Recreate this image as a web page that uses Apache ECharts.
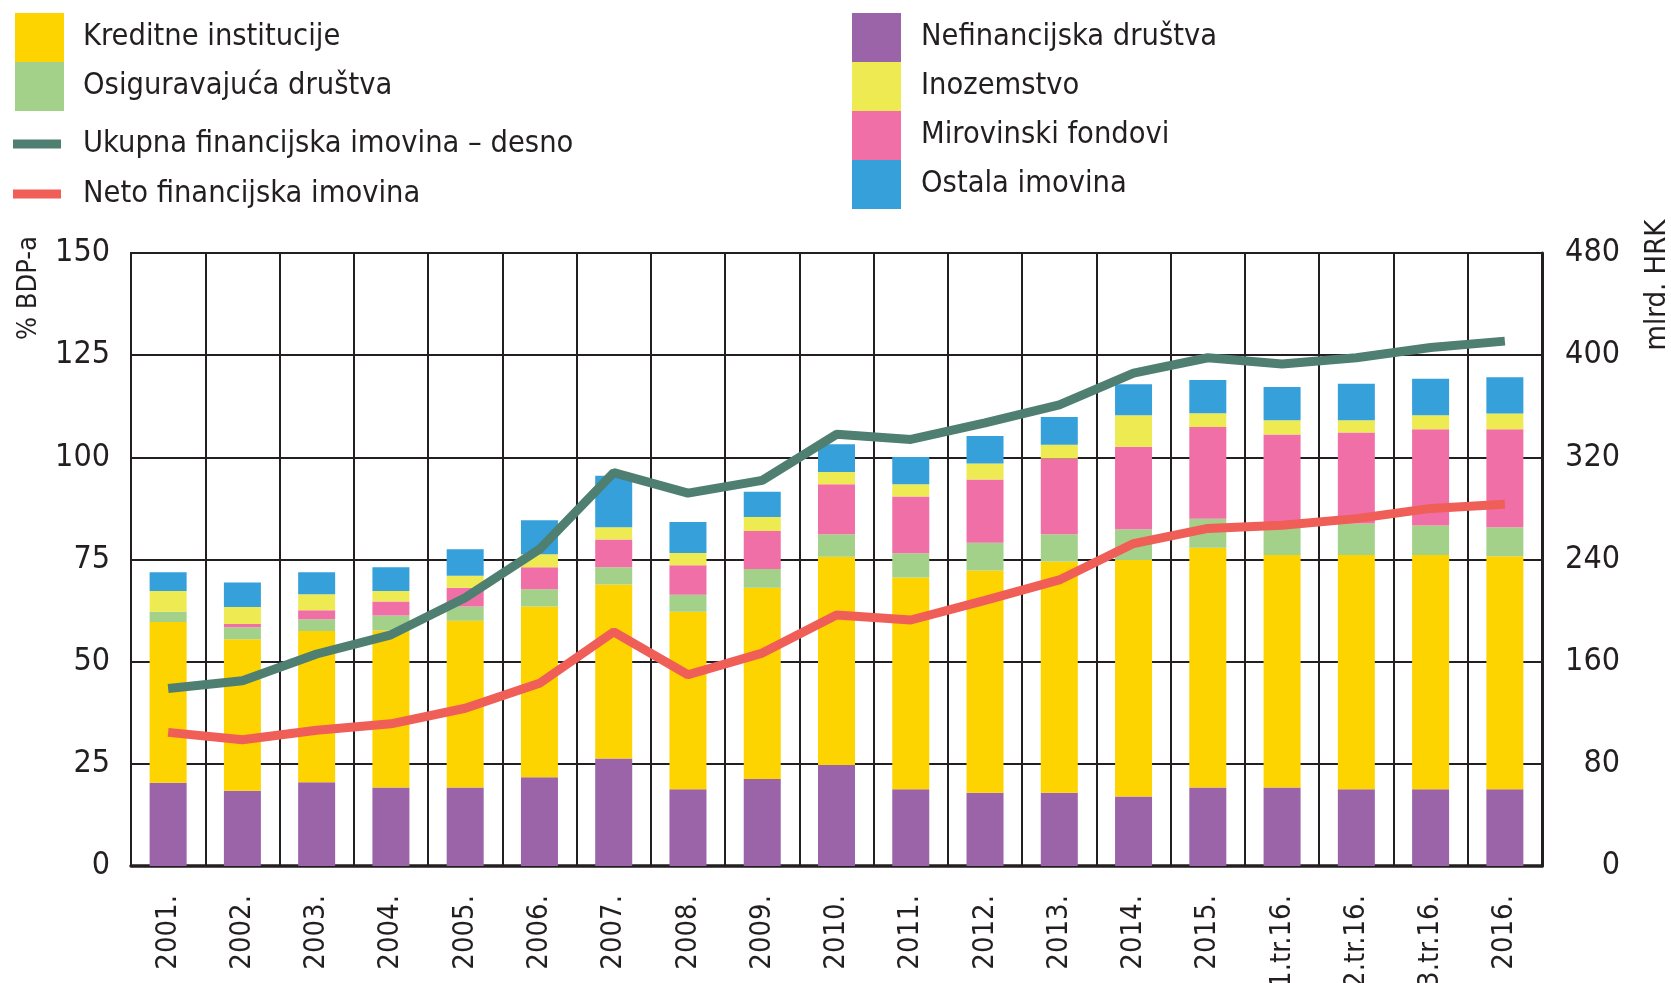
<!DOCTYPE html>
<html>
<head>
<meta charset="utf-8">
<script src="https://cdn.jsdelivr.net/npm/echarts@6/dist/echarts.min.js"></script>
<style>
  html, body { margin: 0; padding: 0; background: #fff; }
  #chart { width: 1671px; height: 983px; }
</style>
</head>
<body>
<div id="chart"></div>
<script>
  // kategorije
  var categories = ['2001.', '2002.', '2003.', '2004.', '2005.', '2006.', '2007.', '2008.', '2009.', '2010.',
    '2011.', '2012.', '2013.', '2014.', '2015.', '1.tr.16.', '2.tr.16.', '3.tr.16.', '2016.']

  // % BDP-a, slojevi stupaca odozdo prema gore
  var nefinancijska = [20.4, 18.4, 20.5, 19.2, 19.2, 21.7, 26.3, 18.8, 21.3, 24.7, 18.8, 17.9, 17.9, 17.0, 19.2, 19.2, 18.8, 18.8, 18.8]
  var kreditne = [39.3, 37.1, 37.0, 38.4, 40.8, 41.8, 42.6, 43.4, 46.8, 51.0, 51.8, 54.4, 56.6, 57.9, 58.7, 56.9, 57.3, 57.3, 57.0]
  var osiguravajuca = [2.5, 2.9, 2.9, 3.7, 3.5, 4.2, 4.2, 4.2, 4.6, 5.5, 5.9, 6.8, 6.7, 7.5, 7.1, 7.3, 7.7, 7.2, 7.1]
  var mirovinski = [0, 0.8, 2.2, 3.4, 4.6, 5.4, 6.8, 7.2, 9.3, 12.2, 13.9, 15.5, 18.5, 20.2, 22.4, 22.2, 22.3, 23.6, 24.0]
  var inozemstvo = [5.1, 4.2, 3.9, 2.6, 2.9, 3.2, 3.0, 3.0, 3.4, 3.0, 3.0, 3.9, 3.4, 7.7, 3.4, 3.5, 3.0, 3.4, 3.8]
  var ostala = [4.6, 6.0, 5.4, 5.8, 6.5, 8.3, 12.6, 7.6, 6.2, 6.8, 6.7, 6.7, 6.8, 7.6, 8.1, 8.1, 8.9, 8.9, 8.9]

  // linije
  var ukupna = [139, 145, 166, 181, 210, 248, 308, 292, 302, 338, 334, 347, 361, 386, 398, 393, 398, 406, 411] // mlrd. HRK, desno
  var neto = [32.7, 30.9, 33.2, 34.8, 38.6, 44.7, 57.3, 46.8, 52.1, 61.4, 60.2, 65.0, 70.0, 78.9, 82.6, 83.4, 85.0, 87.5, 88.5]

  var font = "'Liberation Sans Narrow', 'DejaVu Sans Condensed', 'Arial Narrow', sans-serif"
  var ink = '#231F20'

  var chart = echarts.init(document.getElementById('chart'))

  function barSeries (name, data, color) {
    return {
      name: name,
      type: 'bar',
      stack: 'sektori',
      barWidth: 37,
      yAxisIndex: 0,
      itemStyle: { color: color },
      data: data
    }
  }

  var legendText = { fontFamily: font, fontSize: 30.5, color: ink }

  var option = {
    animation: false,
    textStyle: { fontFamily: font },
    legend: [{
      orient: 'vertical', left: 15, top: 13, padding: 0, itemGap: 0,
      itemWidth: 49, itemHeight: 49, icon: 'rect',
      textStyle: Object.assign({ padding: [24, 0, 0, 14], lineHeight: 24 }, legendText),
      data: ['Kreditne institucije', 'Osiguravajuća društva']
    }, {
      orient: 'vertical', left: 13, top: 119, padding: 0, itemGap: 0,
      itemWidth: 48, itemHeight: 9, icon: 'rect',
      textStyle: Object.assign({ padding: [8, 0, 0, 17], lineHeight: 42 }, legendText),
      data: ['Ukupna financijska imovina – desno', 'Neto financijska imovina']
    }, {
      orient: 'vertical', left: 852, top: 13, padding: 0, itemGap: 0,
      itemWidth: 49, itemHeight: 49, icon: 'rect',
      textStyle: Object.assign({ padding: [24, 0, 0, 15], lineHeight: 24 }, legendText),
      data: ['Nefinancijska društva', 'Inozemstvo', 'Mirovinski fondovi', 'Ostala imovina']
    }],
    grid: {
      left: 131, right: 129, top: 253, bottom: 117,
      outerBoundsMode: 'none',
      show: true, borderColor: ink, borderWidth: 2, backgroundColor: 'transparent'
    },
    xAxis: {
      type: 'category',
      data: categories,
      axisLine: { lineStyle: { color: ink, width: 3.5 } },
      axisTick: { show: false },
      splitLine: { show: true, lineStyle: { color: ink, width: 2 } },
      axisLabel: { rotate: 90, margin: 29, fontSize: 29, color: ink, fontFamily: font, interval: 0 }
    },
    yAxis: [{
      type: 'value', min: 0, max: 150, interval: 25,
      axisLine: { show: true, lineStyle: { color: ink, width: 2 } },
      axisTick: { show: false },
      splitLine: { lineStyle: { color: ink, width: 2 } },
      axisLabel: { margin: 21, fontSize: 32, color: ink, fontFamily: font }
    }, {
      type: 'value', min: 0, max: 480, interval: 80,
      axisLine: { show: true, lineStyle: { color: ink, width: 3 } },
      axisTick: { show: false },
      splitLine: { show: false },
      axisLabel: { margin: 78, align: 'right', fontSize: 32, color: ink, fontFamily: font }
    }],
    graphic: [{
      type: 'text', x: 29, y: 288, rotation: Math.PI / 2,
      style: { text: '% BDP-a', font: '27px ' + font, fill: ink, align: 'center', verticalAlign: 'middle' }
    }, {
      type: 'text', x: 1657, y: 285, rotation: Math.PI / 2,
      style: { text: 'mlrd. HRK', font: '29px ' + font, fill: ink, align: 'center', verticalAlign: 'middle' }
    }],
    series: [
      barSeries('Nefinancijska društva', nefinancijska, '#9B63A8'),
      barSeries('Kreditne institucije', kreditne, '#FDD400'),
      barSeries('Osiguravajuća društva', osiguravajuca, '#A3D18A'),
      barSeries('Mirovinski fondovi', mirovinski, '#F06FA7'),
      barSeries('Inozemstvo', inozemstvo, '#EEEA52'),
      barSeries('Ostala imovina', ostala, '#35A0DA'),
      {
        name: 'Ukupna financijska imovina – desno',
        type: 'line',
        yAxisIndex: 1,
        symbol: 'none',
        lineStyle: { color: '#4F7F70', width: 9 },
        itemStyle: { color: '#4F7F70' },
        data: ukupna
      }, {
        name: 'Neto financijska imovina',
        type: 'line',
        yAxisIndex: 0,
        symbol: 'none',
        lineStyle: { color: '#EF5F58', width: 9 },
        itemStyle: { color: '#EF5F58' },
        data: neto
      }
    ]
  }
  chart.setOption(option)
</script>
</body>
</html>
